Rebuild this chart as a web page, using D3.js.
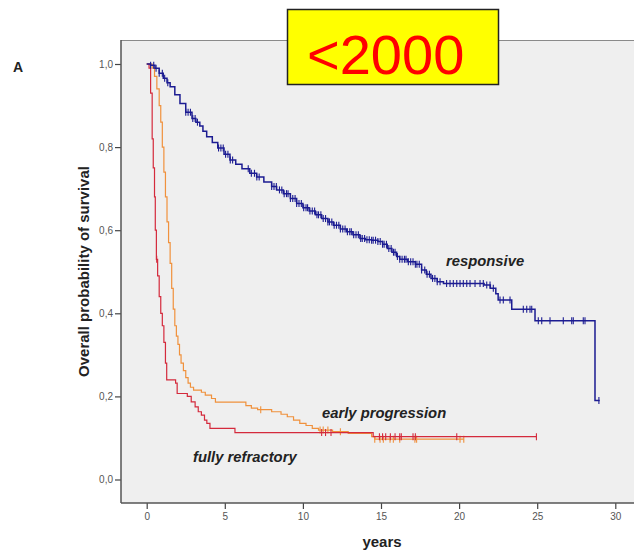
<!DOCTYPE html>
<html>
<head>
<meta charset="utf-8">
<script src="https://cdn.jsdelivr.net/npm/d3@7"></script>
<style>
  html, body { margin: 0; padding: 0; background: #fff; }
  svg { display: block; font-family: Arial, "Liberation Sans", sans-serif; }
</style>
</head>
<body>
<svg id="chart" width="634" height="551"></svg>
<script>
// Kaplan-Meier overall survival by response group (time in years)
const xTicks = [0, 5, 10, 15, 20, 25, 30];
const yTicks = [0, 0.2, 0.4, 0.6, 0.8, 1.0];
const yTickLabels = ["0,0", "0,2", "0,4", "0,6", "0,8", "1,0"];

// step points [time, survival]; last entry is end of follow-up
const responsiveSteps = [
  [0, 1.0], [0.25, 0.997], [0.53, 0.99], [0.8, 0.978], [1.06, 0.966], [1.3, 0.955],
  [1.5, 0.945], [1.8, 0.926], [2.13, 0.905], [2.5, 0.884], [2.9, 0.869], [3.15, 0.86],
  [3.4, 0.851], [3.6, 0.838], [3.84, 0.825], [4.2, 0.811], [4.55, 0.798], [4.95, 0.783],
  [5.33, 0.769], [5.7, 0.759], [6.1, 0.748], [6.6, 0.737], [7.04, 0.728], [7.5, 0.716],
  [8.0, 0.705], [8.32, 0.697], [8.75, 0.688], [9.2, 0.676], [9.6, 0.664], [10.0, 0.654],
  [10.4, 0.646], [10.8, 0.637], [11.2, 0.628], [11.6, 0.62], [11.95, 0.612], [12.4, 0.603],
  [12.8, 0.596], [13.2, 0.589], [13.65, 0.58], [14.0, 0.577], [14.4, 0.576], [14.8, 0.573],
  [15.1, 0.566], [15.4, 0.556], [15.7, 0.547], [16.0, 0.537], [16.2, 0.53], [16.7, 0.524],
  [17.2, 0.518], [17.6, 0.504], [17.9, 0.494], [18.2, 0.484], [18.6, 0.476], [19.0, 0.472],
  [21.6, 0.468], [22.0, 0.46], [22.35, 0.447], [22.5, 0.432], [23.37, 0.41], [24.86, 0.382],
  [28.7, 0.19], [29.0, 0.19]
];
const responsiveCensor = [
  0.25, 0.45, 0.6, 0.8, 1.0, 1.15, 1.35, 2.5, 2.65, 2.8, 2.95, 3.1, 3.25, 4.6, 4.75, 4.9,
  5.05, 5.2, 5.35, 5.5, 6.5, 6.7, 6.9, 7.05, 7.2, 8.0, 8.15, 8.3, 8.5, 8.65, 8.8, 8.95, 9.05,
  9.2, 9.35, 9.5, 9.6, 9.75, 9.9, 10.05, 10.2, 10.3, 10.45, 10.6, 10.75, 10.9, 11.0, 11.15,
  11.3, 11.45, 11.6, 11.7, 11.85, 12.0, 12.15, 12.3, 12.4, 12.55, 12.7, 12.85, 13.0, 13.1,
  13.25, 13.4, 13.55, 13.7, 13.8, 13.95, 14.1, 14.25, 14.4, 14.5, 14.65, 14.8, 14.95, 15.1,
  15.2, 15.35, 15.5, 15.65, 15.8, 15.9, 16.05, 16.2, 16.35, 16.5, 16.6, 16.75, 16.9, 17.05,
  17.2, 17.3, 17.45, 17.6, 17.8, 17.95, 18.1, 18.3, 18.45, 18.6, 18.78, 19.2, 19.42, 19.63,
  19.85, 20.06, 20.27, 20.49, 20.7, 21.02, 21.34, 21.55, 21.77, 21.98, 22.19, 22.62, 22.83,
  23.26, 24.11, 24.33, 24.54, 24.65, 25.07, 25.29, 25.82, 26.67, 27.21, 27.31, 27.95, 28.06,
  28.95
];

const earlySteps = [
  [0, 1.0], [0.35, 0.99], [0.5, 0.97], [0.65, 0.94], [0.8, 0.9], [0.9, 0.86], [1.0, 0.8],
  [1.1, 0.74], [1.2, 0.68], [1.3, 0.62], [1.4, 0.57], [1.5, 0.52], [1.6, 0.46], [1.7, 0.41],
  [1.8, 0.37], [1.9, 0.345], [2.0, 0.325], [2.1, 0.3], [2.2, 0.28], [2.35, 0.262], [2.5, 0.245],
  [2.65, 0.232], [2.8, 0.222], [3.0, 0.215], [3.5, 0.21], [3.75, 0.203], [4.15, 0.195],
  [4.4, 0.186], [6.35, 0.178], [6.7, 0.172], [7.1, 0.168], [8.0, 0.163], [8.6, 0.157],
  [9.0, 0.151], [9.4, 0.143], [9.8, 0.135], [10.2, 0.13], [10.6, 0.123], [11.0, 0.119],
  [11.9, 0.115], [12.9, 0.111], [14.4, 0.103], [14.6, 0.097], [20.3, 0.097]
];
const earlyCensor = [7.3, 11.1, 11.3, 11.6, 12.4, 14.6, 14.94, 15.15, 15.58, 15.79, 16.2, 17.17, 17.28, 20.06, 20.3];

const refractorySteps = [
  [0, 1.0], [0.15, 0.99], [0.25, 0.93], [0.35, 0.82], [0.42, 0.75], [0.5, 0.68], [0.55, 0.6],
  [0.62, 0.53], [0.7, 0.49], [0.8, 0.44], [0.9, 0.4], [1.0, 0.37], [1.1, 0.33], [1.2, 0.28],
  [1.28, 0.24], [1.85, 0.232], [1.95, 0.207], [2.6, 0.2], [2.85, 0.187], [3.1, 0.175],
  [3.3, 0.163], [3.5, 0.155], [3.7, 0.143], [3.85, 0.135], [4.05, 0.123], [5.65, 0.113],
  [14.5, 0.103], [24.95, 0.103]
];
const refractoryCensor = [0.64, 11.2, 11.45, 11.8, 14.9, 15.1, 15.3, 15.6, 15.9, 16.2, 16.3, 17.05, 17.2, 19.85, 24.95];

const groups = [
  { name: "responsive", steps: responsiveSteps, censor: responsiveCensor, color: "#1c1c92", width: 1.5 },
  { name: "early progression", steps: earlySteps, censor: earlyCensor, color: "#f0913c", width: 1.2 },
  { name: "fully refractory", steps: refractorySteps, censor: refractoryCensor, color: "#d42a3c", width: 1.2 }
];

const svg = d3.select("#chart");

const x = d3.scaleLinear().domain([0, 30]).range([146.7, 615.3]);
const y = d3.scaleLinear().domain([0, 1]).range([479.5, 64]);

const plot = { left: 121, top: 40, right: 640, bottom: 503 };

// panel background and frame
svg.append("rect")
  .attr("x", plot.left).attr("y", plot.top)
  .attr("width", plot.right - plot.left).attr("height", plot.bottom - plot.top)
  .attr("fill", "#efefef");
svg.append("line")
  .attr("x1", plot.left).attr("x2", plot.right).attr("y1", plot.top + 0.5).attr("y2", plot.top + 0.5)
  .attr("stroke", "#8a8a8a").attr("stroke-width", 1.2);

// axes
const xAxis = d3.axisBottom(x).tickValues(xTicks).tickSize(6).tickPadding(4).tickFormat(d3.format("d"));
const yAxis = d3.axisLeft(y).tickValues(yTicks).tickSize(6).tickPadding(2)
  .tickFormat((d, i) => yTickLabels[i]);

const gx = svg.append("g").attr("transform", `translate(0,${plot.bottom})`).call(xAxis);
const gy = svg.append("g").attr("transform", `translate(${plot.left},0)`).call(yAxis);

[gx, gy].forEach(g => {
  g.select(".domain").remove();
  g.selectAll(".tick line").attr("stroke", "#444").attr("stroke-width", 1.2);
  g.selectAll(".tick text").attr("fill", "#555").style("font-size", "10px")
    .style("font-family", "Arial, 'Liberation Sans', sans-serif");
});

svg.append("line")
  .attr("x1", plot.left).attr("x2", plot.left).attr("y1", plot.top).attr("y2", plot.bottom)
  .attr("stroke", "#555").attr("stroke-width", 1.5);
svg.append("line")
  .attr("x1", plot.left).attr("x2", plot.right).attr("y1", plot.bottom).attr("y2", plot.bottom)
  .attr("stroke", "#555").attr("stroke-width", 1.5);

// survival curves
const line = d3.line().x(d => x(d[0])).y(d => y(d[1])).curve(d3.curveStepAfter);

function survivalAt(steps, t) {
  const i = d3.bisector(d => d[0]).right(steps, t) - 1;
  return steps[Math.max(0, i)][1];
}

// draw back to front so the responsive curve sits on top
[groups[1], groups[2], groups[0]].forEach(g => {
  svg.append("path")
    .datum(g.steps)
    .attr("d", line)
    .attr("fill", "none")
    .attr("stroke", g.color)
    .attr("stroke-width", g.width);

  svg.append("g").selectAll("line")
    .data(g.censor)
    .join("line")
    .attr("x1", d => x(d)).attr("x2", d => x(d))
    .attr("y1", d => y(survivalAt(g.steps, d)) - 3.5)
    .attr("y2", d => y(survivalAt(g.steps, d)) + 3.5)
    .attr("stroke", g.color)
    .attr("stroke-width", 1.1);
});

// curve labels
const labelStyle = s => s.attr("font-weight", "bold").attr("font-style", "italic")
  .attr("font-size", "14.8px").attr("fill", "#222");
svg.append("text").attr("x", 446).attr("y", 266).text("responsive").call(labelStyle);
svg.append("text").attr("x", 322).attr("y", 418).text("early progression").call(labelStyle);
svg.append("text").attr("x", 193).attr("y", 462).text("fully refractory").call(labelStyle);

// axis titles
svg.append("text")
  .attr("x", 382).attr("y", 547)
  .attr("text-anchor", "middle")
  .attr("font-weight", "bold").attr("font-size", "15px").attr("fill", "#222")
  .text("years");
svg.append("text")
  .attr("transform", "translate(89,271.5) rotate(-90)")
  .attr("text-anchor", "middle")
  .attr("font-weight", "bold").attr("font-size", "15px").attr("fill", "#222")
  .text("Overall probability of survival");

// panel letter
svg.append("text")
  .attr("x", 13).attr("y", 72)
  .attr("font-weight", "bold").attr("font-size", "14px").attr("fill", "#222")
  .text("A");

// highlighted cohort badge
svg.append("rect")
  .attr("x", 287.5).attr("y", 9.5).attr("width", 211).attr("height", 75)
  .attr("fill", "#ffff00").attr("stroke", "#222").attr("stroke-width", 1.5);
svg.append("text")
  .attr("x", 307).attr("y", 74)
  .attr("font-size", "56px").attr("fill", "#ff0000")
  .text("<2000");
</script>
</body>
</html>
